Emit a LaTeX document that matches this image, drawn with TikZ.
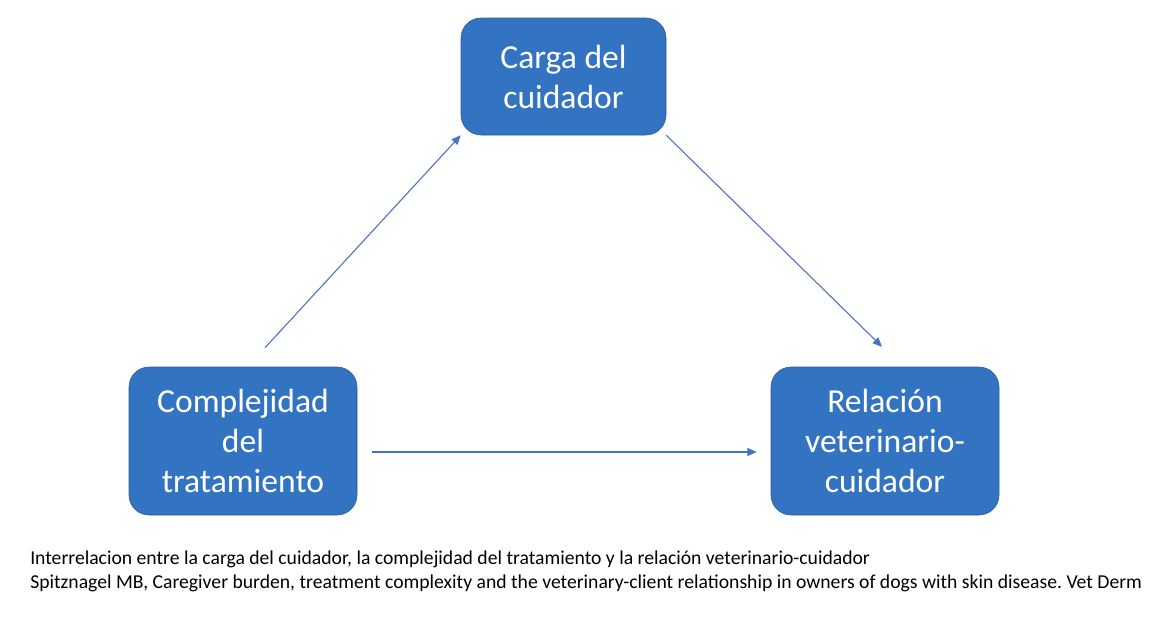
\documentclass[tikz,border=0pt]{standalone}
\usepackage{fontspec}
\setmainfont{Carlito}
\frenchspacing
\usetikzlibrary{calc,arrows.meta}
\definecolor{boxblue}{HTML}{3274C2}
\definecolor{boxline}{HTML}{2F5597}
\definecolor{arrowblue}{HTML}{4472C4}
\tikzset{factor/.style={draw=boxline,fill=boxblue,rounded corners=15pt,text=white,align=center,
    font=\fontsize{25.2}{30}\selectfont,inner sep=0pt}}
\tikzset{link/.style={arrowblue,line width=0.8pt,-{Triangle[length=7pt,width=6pt]}}}

\begin{document}
\begin{tikzpicture}[x=0.75pt,y=-0.75pt]
	    \useasboundingbox (0,0) rectangle (1169,619);
	    \node[factor,minimum width=153.75pt,minimum height=87.75pt] (carga) at (563.5,76.5) {Carga del\\cuidador};
	    \node[factor,minimum width=171pt,minimum height=111pt] (cplx) at (243,441) {Complejidad\\del\\tratamiento};
	    \node[factor,minimum width=171pt,minimum height=111pt] (rel) at (885,441) {Relación\\veterinario-\\cuidador};
	    \draw[link] ($(cplx.north)+(22,-19)$) -- (carga.south west);
	    \draw[link] (carga.south east) -- ($(rel.north)+(-3,-20)$);
	    \draw[link] ($(cplx.east)+(15,11)$) -- ($(rel.west)+(-14,11)$);
	    \node[anchor=north west,align=left,inner sep=0pt,font=\fontsize{14.75}{18}\selectfont] (nota) at (30,551)
	        {Interrelacion entre la carga del cuidador, la complejidad del tratamiento y la relación veterinario-cuidador\\
	         Spitznagel MB, Caregiver burden, treatment complexity and the veterinary-client relationship in owners of dogs with skin disease. Vet Derm};
\end{tikzpicture}
\end{document}
